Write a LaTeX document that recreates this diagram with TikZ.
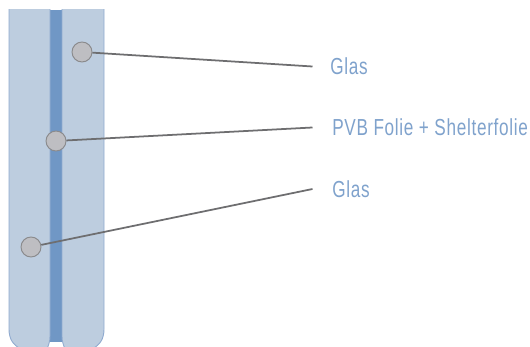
\documentclass[tikz,border=0pt]{standalone}
\usepackage{xcolor}
\usepackage{fontspec}
\usetikzlibrary{calc}
\usetikzlibrary{positioning}
\newfontfamily\labelfont[FakeStretch=0.74,LetterSpace=3]{Liberation Sans}
\definecolor{glasfill}{HTML}{BDCDDF}
\definecolor{glasedge}{HTML}{8FAACF}
\definecolor{foliefill}{HTML}{7097C5}
\definecolor{punktfill}{HTML}{BEBEC2}
\definecolor{punktedge}{HTML}{8A8A8C}
\definecolor{leader}{HTML}{6E6E70}
\definecolor{labelblue}{HTML}{7FA2CC}
\tikzset{
    punkt/.style={circle, draw=punktedge, fill=punktfill, line width=.55pt,
        minimum size=.4cm, inner sep=0pt},
    etikett/.style={anchor=west, inner sep=0pt, text=labelblue,
        font=\labelfont\fontsize{13.2}{15}\selectfont},
    glas/.style={draw=glasedge, fill=glasfill, line width=.5pt},
}

\begin{document}
\begin{tikzpicture}[x=.02cm, y=-.02cm]

                \useasboundingbox (0, 0) rectangle (530, 347);

                % Foil first, the two panes lie over its edges
                \fill[foliefill] (50, 10) rectangle (62, 342);
                \begin{scope}
                    \clip (0, 10) rectangle (530, 347);
                    \draw[glas] (50, 0) -- (50, 336)
                        .. controls (50, 341) and (49, 344) .. (47, 349)
                        -- (21, 349) .. controls (13, 345) and (9, 339) .. (9, 329)
                        -- (9, 0);
                    \draw[glas] (62, 0) -- (62, 336)
                        .. controls (62, 341) and (63, 344) .. (65, 349)
                        -- (92, 349) .. controls (100, 345) and (104, 339) .. (104, 329)
                        -- (104, 0);
                \end{scope}

                \node[punkt] (p1) at (82, 52) {};
                \node[punkt] (p2) at (56, 141) {};
                \node[punkt] (p3) at (31, 247) {};

                \coordinate (e1) at (312.5, 66.5);
                \coordinate (e2) at (312.5, 127.5);
                \coordinate (e3) at (312.5, 189);

                \node[etikett] (l1) at (330, 66) {Glas};
                \node[etikett] (l2) at (332, 127) {PVB Folie + Shelterfolie};
                \node[etikett] (l3) at (332, 189) {Glas};

                \begin{scope}[line width=1pt, leader]
                    \draw (p1) -- (e1);
                    \draw (p2) -- (e2);
                    \draw (p3) -- (e3);
                \end{scope}

\end{tikzpicture}
\end{document}
